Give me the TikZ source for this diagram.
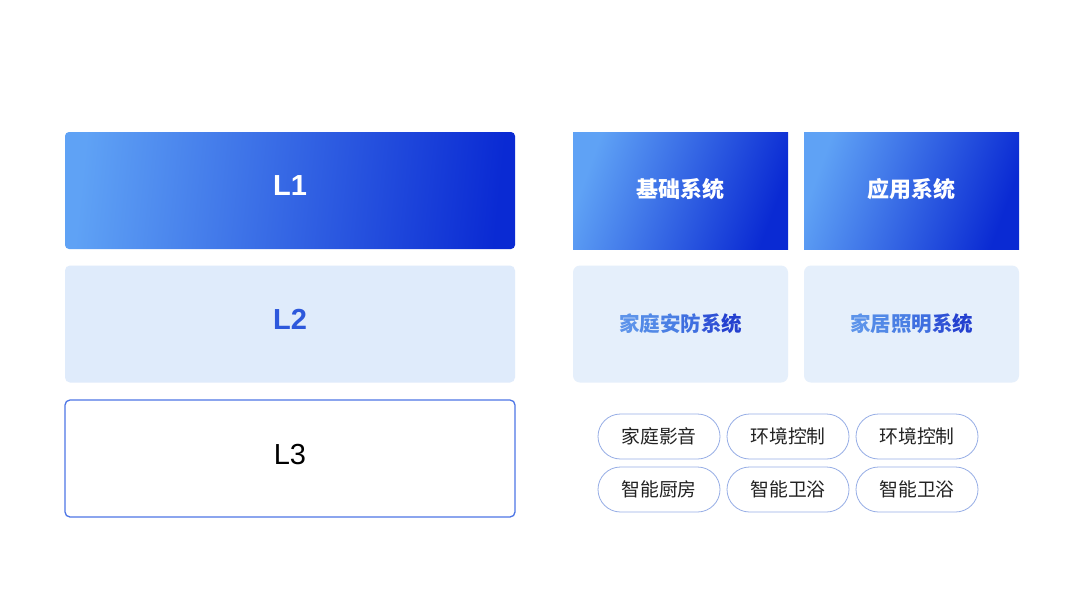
\documentclass[tikz,border=0pt]{standalone}
\usepackage{fontspec}
\setmainfont{Liberation Sans}
\newfontfamily\cjk{Noto Sans CJK SC}
\usetikzlibrary{shapes.misc}
\definecolor{gl}{HTML}{5FA2F5}
\definecolor{gd}{HTML}{0A2AD3}
\definecolor{pale}{HTML}{DFEBFB}
\definecolor{pale2}{HTML}{E5EFFB}
\definecolor{pillline}{HTML}{97AEE6}
\definecolor{lthree}{HTML}{4D76E6}
\definecolor{txt}{HTML}{222222}
\definecolor{c1}{HTML}{5C93EA}
\definecolor{c2}{HTML}{5289E7}
\definecolor{c3}{HTML}{4A7FE4}
\definecolor{c4}{HTML}{3F6FE0}
\definecolor{c5}{HTML}{2F52D6}
\definecolor{c6}{HTML}{2440CF}
\definecolor{ltwo}{HTML}{2D58DC}
\tikzset{
  bigbox/.style={rectangle, minimum width=450pt, minimum height=117pt, inner sep=0pt},
  smallbox/.style={rectangle, minimum width=215pt, minimum height=117pt, inner sep=0pt},
  darkgrad/.style={top color=gl, bottom color=gd},
  pill/.style={rounded rectangle, draw=pillline, line width=0.8pt, fill=white,
    minimum width=122pt, minimum height=45pt, inner sep=0pt,
    font=\cjk\fontsize{18.8pt}{20pt}\selectfont, text=txt},
  toptitle/.style={font=\cjk\bfseries\fontsize{22pt}{24pt}\selectfont, text=white},
  midtitle/.style={font=\cjk\bfseries\fontsize{20.5pt}{22pt}\selectfont},
  ltext/.style={font=\fontsize{29pt}{31pt}\selectfont},
  lbold/.style={font=\bfseries\fontsize{29pt}{31pt}\selectfont}
}
\newcommand{\gradtext}[6]{\textcolor{c1}{#1}\textcolor{c2}{#2}\textcolor{c3}{#3}\textcolor{c4}{#4}\textcolor{c5}{#5}\textcolor{c6}{#6}}
\begin{document}
\begin{tikzpicture}[x=1pt,y=-1pt]
\useasboundingbox (0,0) rectangle (1080,608);
\fill[white] (0,0) rectangle (1080,608);
% left column
\node[bigbox, rounded corners=4pt, darkgrad, shading angle=84] (l1) at (290,190.5) {};
\node[lbold, text=white, yshift=4.5pt] (l1t) at (l1) {L1};
\node[bigbox, rounded corners=5pt, fill=pale] (l2) at (290,324) {};
\node[lbold, text=ltwo, yshift=5pt] (l2t) at (l2) {L2};
\node[bigbox, rounded corners=5pt, fill=white, draw=lthree, line width=1.3pt] (l3) at (290,458.5) {};
\node[ltext, text=black, yshift=4pt] (l3t) at (l3) {L3};
% right top
\node[smallbox, darkgrad, shading angle=70] (a1) at (680.5,190.5) {};
\node[toptitle, yshift=1pt] (a1t) at (a1) {基础系统};
\node[smallbox, darkgrad, shading angle=70] (a2) at (911.5,190.5) {};
\node[toptitle, yshift=1pt] (a2t) at (a2) {应用系统};
% right middle
\node[smallbox, rounded corners=7pt, fill=pale2] (b1) at (680.5,324) {};
\node[midtitle] (b1t) at (b1) {\gradtext{家}{庭}{安}{防}{系}{统}};
\node[smallbox, rounded corners=7pt, fill=pale2] (b2) at (911.5,324) {};
\node[midtitle] (b2t) at (b2) {\gradtext{家}{居}{照}{明}{系}{统}};
% pills
\node[pill] (p1) at (659,436.5) {家庭影音};
\node[pill] (p2) at (788,436.5) {环境控制};
\node[pill] (p3) at (917,436.5) {环境控制};
\node[pill] (p4) at (659,489.5) {智能厨房};
\node[pill] (p5) at (788,489.5) {智能卫浴};
\node[pill] (p6) at (917,489.5) {智能卫浴};
\end{tikzpicture}
\end{document}
